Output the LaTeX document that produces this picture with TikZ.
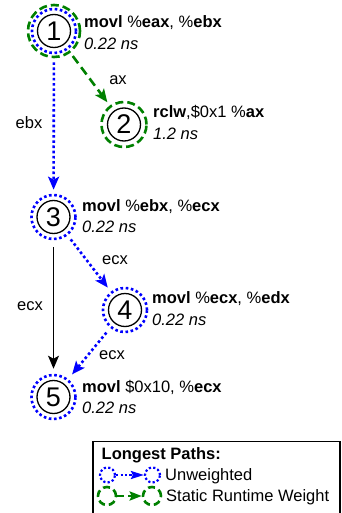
\documentclass[tikz,border=0pt]{standalone}
\usepackage{fontspec}
\setmainfont{Liberation Sans}
\usetikzlibrary{arrows.meta}
\definecolor{dgreen}{RGB}{0,128,0}
\begin{document}
\begin{tikzpicture}[x=1pt,y=-1pt,
  lbl/.style={font=\fontsize{16.5}{16.5}\selectfont},
  num/.style={circle,draw,line width=1.3pt,minimum size=33pt,inner sep=0pt,font=\fontsize{27}{27}\selectfont},
  bring/.style={circle,draw=blue,line width=2.6pt,dash pattern=on 2.6pt off 2.6pt,minimum size=#1,inner sep=0pt},
  gring/.style={circle,draw=dgreen,line width=2.6pt,dash pattern=on 8pt off 4pt,minimum size=#1,inner sep=0pt},
  txt/.style={lbl,anchor=base west,inner sep=0pt},
  elbl/.style={lbl,inner sep=0pt},
  bedge/.style={draw=blue,line width=2.6pt,dash pattern=on 2.6pt off 2.6pt,
    -{Stealth[length=13pt,width=11pt,inset=3pt]},shorten <=#1,shorten >=#1},
  gedge/.style={draw=dgreen,line width=2.6pt,dash pattern=on 9pt off 5pt,
    -{Stealth[length=13pt,width=11pt,inset=3pt]},shorten <=#1,shorten >=#1},
  kedge/.style={draw=black,line width=1.3pt,-{Stealth[length=13pt,width=11pt,inset=3pt]}}
]
\useasboundingbox (0,0) rectangle (342,513);

% node 1
\node[num] (n1) at (54,31) {1};
\node[bring=44pt] (b1) at (n1.center) {};
\node[gring=52pt] (g1) at (n1.center) {};
\node[txt] (t1a) at (84,28) {\textbf{movl} \%\textbf{eax}, \%\textbf{ebx}};
\node[txt] (t1b) at (84,50) {\textit{0.22 ns}};

% node 2
\node[num] (n2) at (124,124.5) {2};
\node[gring=45pt] (g2) at (n2.center) {};
\node[txt] (t2a) at (153,117.5) {\textbf{rclw},\$0x1 \%\textbf{ax}};
\node[txt] (t2b) at (153,139.5) {\textit{1.2 ns}};

% node 3
\node[num] (n3) at (53.5,217) {3};
\node[bring=44pt] (b3) at (n3.center) {};
\node[txt] (t3a) at (82,211.5) {\textbf{movl} \%\textbf{ebx}, \%\textbf{ecx}};
\node[txt] (t3b) at (82,232.5) {\textit{0.22 ns}};

% node 4
\node[num] (n4) at (125,310) {4};
\node[bring=44pt] (b4) at (n4.center) {};
\node[txt] (t4a) at (152,303) {\textbf{movl} \%\textbf{ecx}, \%\textbf{edx}};
\node[txt] (t4b) at (152,325) {\textit{0.22 ns}};

% node 5
\node[num] (n5) at (53.5,397) {5};
\node[bring=44pt] (b5) at (n5.center) {};
\node[txt] (t5a) at (82,392) {\textbf{movl} \$0x10, \%\textbf{ecx}};
\node[txt] (t5b) at (82,413) {\textit{0.22 ns}};

% edges
\draw[bedge=4pt] (g1) -- (b3);
\draw[gedge=4pt] (g1) -- (g2);
\draw[bedge=5pt] (b3) -- (b4);
\draw[bedge=6pt] (b4) -- (b5);
\draw[kedge,shorten <=7pt,shorten >=5pt] (b3) -- (b5);

\node[elbl] (e13) at (29,123) {ebx};
\node[elbl] (e12) at (118,80) {ax};
\node[elbl] (e34) at (115,260) {ecx};
\node[elbl] (e35) at (30,306) {ecx};
\node[elbl] (e45) at (112,355) {ecx};

% legend
\draw[line width=1.3pt] (93,516) |- (340,441.5) -- (340,516);
\node[txt,font=\fontsize{16.5}{16.5}\selectfont\bfseries] (lt) at (101.5,459) {Longest Paths:};
\node[bring=15pt,line width=2.2pt,dash pattern=on 2.2pt off 2.2pt] (lb1) at (107.5,475) {};
\node[bring=15pt,line width=2.2pt,dash pattern=on 2.2pt off 2.2pt] (lb2) at (152.5,475) {};
\draw[draw=blue,line width=2.2pt,dash pattern=on 2.2pt off 2.2pt,-{Stealth[length=13pt,width=8pt,inset=2pt]}] (lb1) -- (lb2);
\node[gring=18pt,line width=2.6pt,dash pattern=on 7pt off 4pt] (lg1) at (107,496) {};
\node[gring=18pt,line width=2.6pt,dash pattern=on 7pt off 4pt] (lg2) at (152,496) {};
\draw[draw=dgreen,line width=2.6pt,dash pattern=on 7pt off 4pt,-{Stealth[length=12pt,width=9pt,inset=2pt]}] (lg1) -- (lg2);
\node[txt] (lu) at (165,480.5) {Unweighted};
\node[txt] (ls) at (166,501.5) {Static Runtime Weight};
\end{tikzpicture}
\end{document}
